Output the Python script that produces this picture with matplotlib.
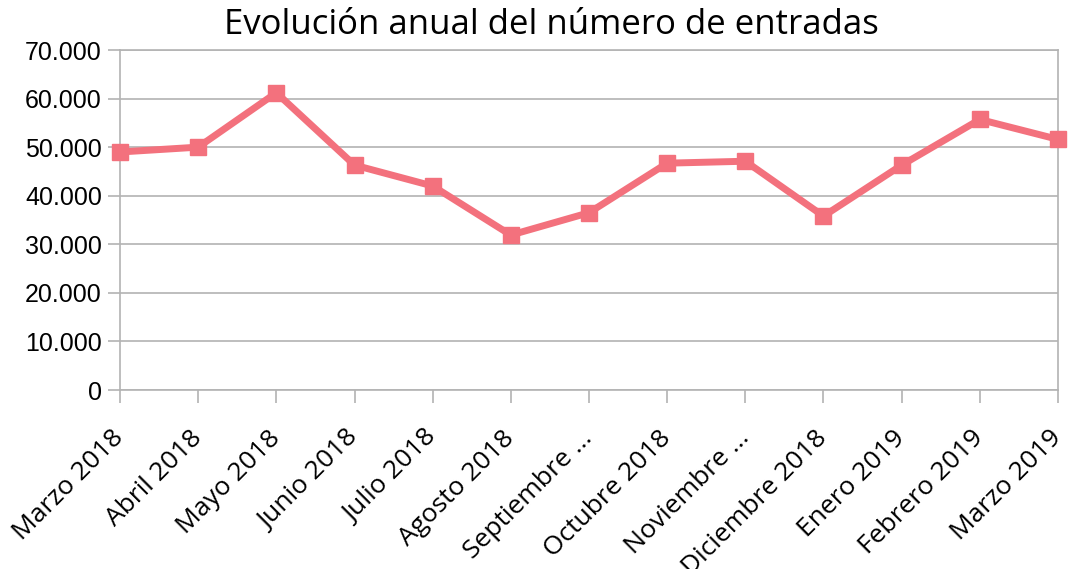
import matplotlib
matplotlib.use("Agg")
import matplotlib.pyplot as plt
from matplotlib.ticker import FuncFormatter

plt.rcParams["font.family"] = ["Open Sans", "DejaVu Sans"]

# datos
meses = ["Marzo 2018", "Abril 2018", "Mayo 2018", "Junio 2018", "Julio 2018",
         "Agosto 2018", "Septiembre ...", "Octubre 2018", "Noviembre ...",
         "Diciembre 2018", "Enero 2019", "Febrero 2019", "Marzo 2019"]
entradas = [49000, 50000, 61200, 46300, 42000, 31900, 36500,
            46700, 47100, 35800, 46300, 55700, 51600]
yticks = [0, 10000, 20000, 30000, 40000, 50000, 60000, 70000]

color = "#f3717d"
gris = "#b3b3b3"

fig = plt.figure(figsize=(10.72, 5.69), dpi=100)
ax = fig.add_axes([120 / 1072, 1 - 390 / 569, 938 / 1072, 340 / 569])

x = list(range(len(meses)))
ax.plot(x, entradas, color=color, lw=5, marker="s", markersize=11,
        solid_joinstyle="miter", zorder=3, clip_on=False)

ax.set_xlim(0, len(meses) - 1)
ax.set_ylim(0, 70000)
ax.set_yticks(yticks)
ax.yaxis.set_major_formatter(FuncFormatter(lambda v, p: f"{int(v):,}".replace(",", ".")))
ax.grid(axis="y", color=gris, lw=1.2)
ax.set_axisbelow(True)
for s in ax.spines.values():
    s.set_color(gris)
    s.set_linewidth(1.2)

ax.tick_params(axis="y", length=9, width=1.2, color=gris, pad=4, labelsize=18)
ax.tick_params(axis="x", length=9, width=1.2, color=gris, pad=23)

ax.set_xticks(x)
ax.set_xticklabels(meses, rotation=45, ha="right", va="center",
                   rotation_mode="anchor", fontsize=19)

fig.canvas.draw()
for lab in ax.get_yticklabels():
    lab.set_fontfamily("Liberation Sans")
for lab in ax.get_xticklabels():
    lab.set_fontfamily("Open Sans")

fig.text(0.514, 0.956, "Evolución anual del número de entradas", ha="center",
         va="center", fontsize=25)

fig.savefig("out.png", dpi=100)
